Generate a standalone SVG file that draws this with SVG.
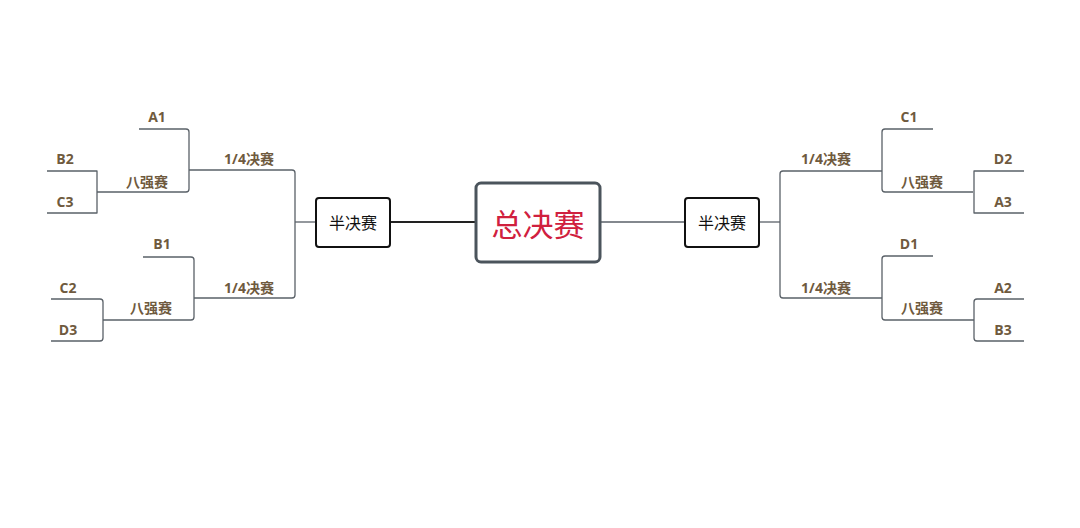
<svg xmlns="http://www.w3.org/2000/svg" width="1080" height="528" viewBox="0 0 1080 528">
<style>
.c{fill:none;stroke:#5a6168;stroke-width:1.3;stroke-linejoin:round}
.l{font-family:"Open Sans","Noto Sans CJK SC",sans-serif;font-weight:700;font-size:14px;fill:#6f5a3e;text-anchor:middle}
.s{font-family:"Noto Sans CJK SC",sans-serif;font-size:16px;fill:#111;text-anchor:middle}
</style>
<rect width="1080" height="528" fill="#fff"/>
<g id="connectors">
<!-- left top -->
<path class="c" d="M139,129 H186 Q189,129 189,132 V189 Q189,192 186,192 H97"/>
<path class="c" d="M47,171 H97 V213 H47"/>
<path class="c" d="M189,170 H292 Q295,170 295,173 V295 Q295,298 292,298 H194"/>
<!-- left bottom -->
<path class="c" d="M143,257 H191 Q194,257 194,260 V317 Q194,320 191,320 H103"/>
<path class="c" d="M51,299 H100 Q103,299 103,302 V338 Q103,341 100,341 H51"/>
<path class="c" d="M295,222 H316"/>
<path d="M390,222 H476" fill="none" stroke="#222" stroke-width="2"/>
<path class="c" d="M600,222 H686"/>
<path class="c" d="M759,222 H780"/>
<!-- right -->
<path class="c" d="M882,171 H783 Q780,171 780,174 V295 Q780,298 783,298 H882"/>
<path class="c" d="M933,129 H885 Q882,129 882,132 V189 Q882,192 885,192 H973"/>
<path class="c" d="M1024,171 H974 V213 H1024"/>
<path class="c" d="M933,256 H885 Q882,256 882,259 V317 Q882,320 885,320 H974"/>
<path class="c" d="M1024,299 H977 Q974,299 974,302 V338 Q974,341 977,341 H1024"/>
</g>
<g id="final">
<rect x="476" y="183" width="124" height="79" rx="5" fill="#fff" stroke="#4b545c" stroke-width="3"/>
<text x="538" y="236" font-family="'Noto Sans CJK SC',sans-serif" font-size="31" fill="#d0203e" text-anchor="middle">总决赛</text>
</g>
<g id="semi-left">
<rect x="316" y="198" width="74" height="49" rx="3" fill="#fff" stroke="#111" stroke-width="2"/>
<text class="s" x="353" y="229">半决赛</text>
</g>
<g id="semi-right">
<rect x="685" y="198" width="74" height="49" rx="3" fill="#fff" stroke="#111" stroke-width="2"/>
<text class="s" x="722" y="229">半决赛</text>
</g>
<g id="left-labels">
<text class="l" x="157" y="122">A1</text>
<text class="l" x="65" y="164">B2</text>
<text class="l" x="65" y="207">C3</text>
<text class="l" x="147" y="187">八强赛</text>
<text class="l" x="249" y="164">1/4决赛</text>
<text class="l" x="162" y="249">B1</text>
<text class="l" x="68" y="293">C2</text>
<text class="l" x="68" y="335">D3</text>
<text class="l" x="151" y="313">八强赛</text>
<text class="l" x="249" y="293">1/4决赛</text>
</g>
<g id="right-labels">
<text class="l" x="909" y="122">C1</text>
<text class="l" x="826" y="164">1/4决赛</text>
<text class="l" x="922" y="187">八强赛</text>
<text class="l" x="1003" y="164">D2</text>
<text class="l" x="1003" y="207">A3</text>
<text class="l" x="909" y="249">D1</text>
<text class="l" x="826" y="293">1/4决赛</text>
<text class="l" x="922" y="313">八强赛</text>
<text class="l" x="1003" y="293">A2</text>
<text class="l" x="1003" y="335">B3</text>
</g>
</svg>
